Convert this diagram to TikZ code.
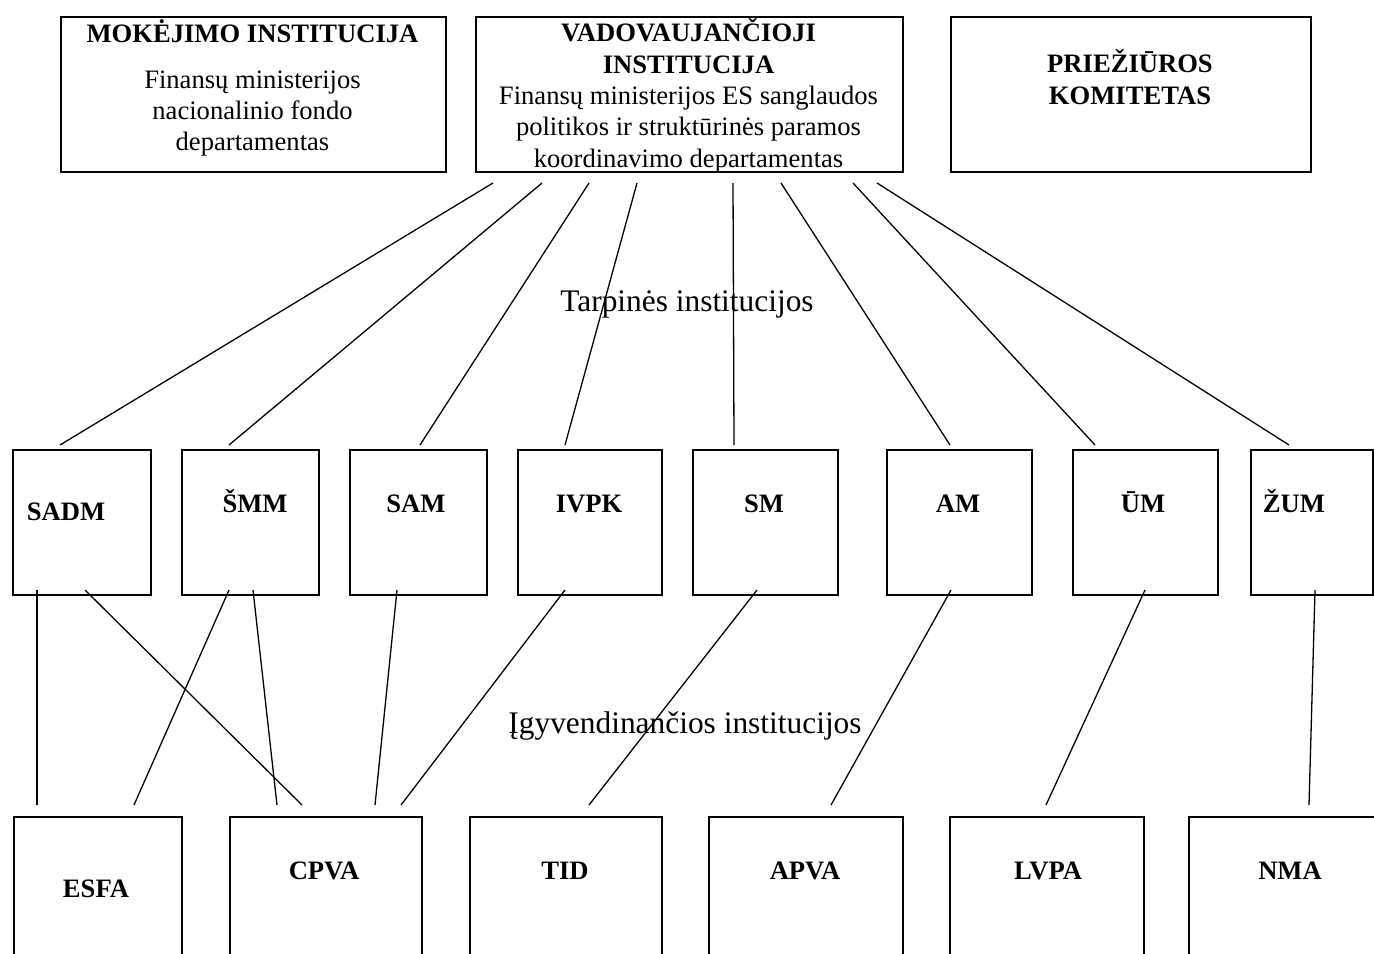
\documentclass[tikz,border=0pt]{standalone}
\usepackage{fontspec}
\setmainfont{Liberation Serif}
\usetikzlibrary{calc}

\begin{document}
\begin{tikzpicture}[x=0.5pt,y=-0.5pt,
    box/.style 2 args={draw,line width=1pt,inner sep=0pt,anchor=north west,
      minimum width=#1*0.5pt,minimum height=#2*0.5pt},
    txt/.style={inner sep=0pt,align=center,font=\fontsize{13.3}{15.6}\selectfont},
    abbr/.style={inner sep=0pt,anchor=base,font=\fontsize{13.3}{15.6}\selectfont\bfseries},
    big/.style={inner sep=0pt,anchor=base,font=\fontsize{15.7}{18}\selectfont},
    con/.style={every edge/.style={draw,line width=0.65pt}}]
  \useasboundingbox (0,0) rectangle (1374,953);
  \clip (0,0) rectangle (1374,953);

  % top row
  \node[box={385}{155}] (mi) at (60,16) {};
  \node[box={427}{155}] (vi) at (475,16) {};
  \node[box={360}{155}] (pk) at (950,16) {};
  \node[txt,font=\fontsize{13.3}{15.6}\selectfont\bfseries] (mi_t) at (252.5,31) {MOKĖJIMO INSTITUCIJA};
  \node[txt] (mi_b) at (252.5,113.5) {Finansų ministerijos\\nacionalinio fondo\\departamentas};
  \node[txt,font=\fontsize{13.3}{15.6}\selectfont\bfseries] (vi_t) at (688.5,46) {VADOVAUJANČIOJI\\INSTITUCIJA};
  \node[txt] (vi_b) at (688.5,129.5) {Finansų ministerijos ES sanglaudos\\politikos ir struktūrinės paramos\\koordinavimo departamentas};
  \node[txt,font=\fontsize{13.3}{15.6}\selectfont\bfseries] (pk_t) at (1130,77) {PRIEŽIŪROS\\KOMITETAS};

  % tarpines institucijos
  \node[box={138}{145}] (t_1) at (12,449) {};
  \node[box={137}{145}] (t_2) at (181,449) {};
  \node[box={137}{145}] (t_3) at (349,449) {};
  \node[box={144}{145}] (t_4) at (517,449) {};
  \node[box={145}{145}] (t_5) at (692,449) {};
  \node[box={145}{145}] (t_6) at (886,449) {};
  \node[box={145}{145}] (t_7) at (1072,449) {};
  \node[box={122}{145}] (t_8) at (1250,449) {};
  \node[abbr] (t_1l) at (66,520) {SADM};
  \node[abbr] (t_2l) at (255,512) {ŠMM};
  \node[abbr] (t_3l) at (416,512) {SAM};
  \node[abbr] (t_4l) at (589,512) {IVPK};
  \node[abbr] (t_5l) at (764,512) {SM};
  \node[abbr] (t_6l) at (958,512) {AM};
  \node[abbr] (t_7l) at (1143,512) {ŪM};
  \node[abbr] (t_8l) at (1294,512) {ŽUM};

  % igyvendinancios institucijos
  \node[box={168}{160}] (g_1) at (13,816) {};
  \node[box={192}{160}] (g_2) at (229,816) {};
  \node[box={192}{160}] (g_3) at (469,816) {};
  \node[box={194}{160}] (g_4) at (708,816) {};
  \node[box={194}{160}] (g_5) at (949,816) {};
  \node[box={197}{160}] (g_6) at (1188,816) {};
  \node[abbr] (g_1l) at (96,897) {ESFA};
  \node[abbr] (g_2l) at (324,879) {CPVA};
  \node[abbr] (g_3l) at (565,879) {TID};
  \node[abbr] (g_4l) at (805,879) {APVA};
  \node[abbr] (g_5l) at (1048,879) {LVPA};
  \node[abbr] (g_6l) at (1290,879) {NMA};

  \node[big] (tarp) at (687,311) {Tarpinės institucijos};
  \node[big] (igyv) at (685,733) {Įgyvendinančios institucijos};

  \path[con]
    ($(vi.south west)+(18,10)$) edge ($(t_1.north west)+(48,-4)$)
    ($(vi.south west)+(67,10)$) edge ($(t_2.north west)+(48,-4)$)
    ($(vi.south west)+(114,10)$) edge ($(t_3.north west)+(71,-4)$)
    ($(vi.south west)+(162,10)$) edge ($(t_4.north west)+(48,-4)$)
    ($(vi.south west)+(258,10)$) edge ($(t_5.north west)+(42,-4)$)
    ($(vi.south west)+(306,10)$) edge ($(t_6.north west)+(64,-4)$)
    ($(vi.south west)+(378,10)$) edge ($(t_7.north west)+(23,-4)$)
    ($(vi.south west)+(402,10)$) edge ($(t_8.north west)+(39,-4)$);

  \path[con]
    ($(t_1.south west)+(25,-6)$) edge ($(g_1.north west)+(24,-11)$)
    ($(t_1.south west)+(73,-6)$) edge ($(g_2.north west)+(73,-11)$)
    ($(t_2.south west)+(48,-6)$) edge ($(g_1.north west)+(121,-11)$)
    ($(t_2.south west)+(72,-6)$) edge ($(g_2.north west)+(48,-11)$)
    ($(t_3.south west)+(48,-6)$) edge ($(g_2.north west)+(146,-11)$)
    ($(t_4.south west)+(48,-6)$) edge ($(g_2.north west)+(172,-11)$)
    ($(t_5.south west)+(65,-6)$) edge ($(g_3.north west)+(120,-11)$)
    ($(t_6.south west)+(65,-6)$) edge ($(g_4.north west)+(123,-11)$)
    ($(t_7.south west)+(73,-6)$) edge ($(g_5.north west)+(97,-11)$)
    ($(t_8.south west)+(65,-6)$) edge ($(g_6.north west)+(121,-11)$);
\end{tikzpicture}
\end{document}
